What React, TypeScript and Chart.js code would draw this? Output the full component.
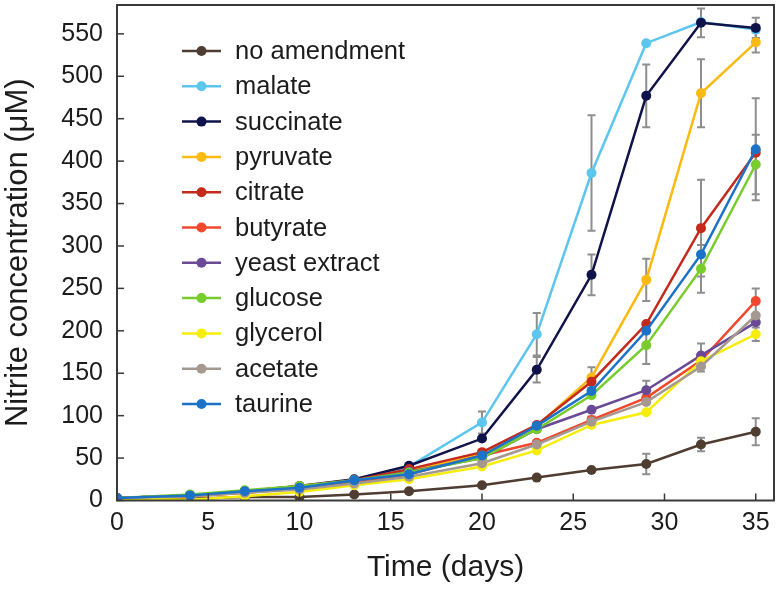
import React, { useEffect, useRef } from 'react';
import { Chart, registerables } from 'chart.js';

Chart.register(...registerables);

// ---- Data ----
const days = [0, 4, 7, 10, 13, 16, 20, 23, 26, 29, 32, 35];

const seriesNames = [
  'no amendment',
  'malate',
  'succinate',
  'pyruvate',
  'citrate',
  'butyrate',
  'yeast extract',
  'glucose',
  'glycerol',
  'acetate',
  'taurine',
];

const noAmendment = [2, 2, 4, 4, 7, 11, 18, 27, 36, 43, 66, 81];
const malate = [3, 6, 11, 16, 24, 40, 92, 196, 386, 539, 564, 555];
const succinate = [3, 6, 11, 17, 25, 41, 73, 154, 266, 477, 563, 557];
const pyruvate = [3, 5, 9, 14, 22, 35, 55, 88, 145, 260, 480, 540];
const citrate = [3, 6, 11, 17, 24, 37, 57, 89, 140, 208, 321, 410];
const butyrate = [3, 5, 9, 14, 21, 31, 53, 68, 95, 121, 165, 235];
const yeastExtract = [3, 6, 10, 16, 23, 34, 50, 84, 107, 130, 171, 210];
const glucose = [3, 7, 12, 17, 24, 33, 50, 84, 124, 183, 273, 396];
const glycerol = [2, 1, 5, 10, 18, 25, 40, 59, 89, 104, 164, 196];
const acetate = [3, 5, 9, 13, 20, 28, 44, 66, 93, 116, 158, 218];
const taurine = [3, 6, 11, 15, 24, 31, 53, 88, 129, 200, 290, 414];

// error (± half-length) for each point; 0 = no visible bar
const errNoAmendment = [0, 0, 0, 0, 0, 0, 0, 0, 0, 12, 8, 16];
const errMalate = [0, 0, 0, 0, 0, 0, 13, 25, 68, 0, 0, 0];
const errSuccinate = [0, 0, 0, 0, 0, 0, 0, 15, 24, 37, 17, 12];
const errPyruvate = [0, 0, 0, 0, 0, 0, 0, 0, 12, 25, 40, 12];
const errCitrate = [0, 0, 0, 0, 0, 0, 0, 0, 0, 0, 57, 0];
const errButyrate = [0, 0, 0, 0, 0, 0, 0, 0, 0, 0, 0, 15];
const errYeastExtract = [0, 0, 0, 0, 0, 0, 0, 0, 0, 11, 14, 0];
const errGlucose = [0, 0, 0, 0, 0, 0, 0, 0, 0, 22, 28, 35];
const errGlycerol = [0, 0, 0, 0, 0, 0, 0, 0, 0, 0, 0, 8];
const errAcetate = [0, 0, 0, 0, 0, 0, 0, 0, 6, 0, 6, 0];
const errTaurine = [0, 0, 0, 0, 0, 0, 0, 0, 0, 0, 0, 60];

const seriesValues = [
  noAmendment, malate, succinate, pyruvate, citrate, butyrate,
  yeastExtract, glucose, glycerol, acetate, taurine,
];
const seriesErrors = [
  errNoAmendment, errMalate, errSuccinate, errPyruvate, errCitrate, errButyrate,
  errYeastExtract, errGlucose, errGlycerol, errAcetate, errTaurine,
];
const seriesColors = [
  '#4f3d31', '#5cc6ee', '#10134a', '#fbba12', '#c42a1c', '#f0482c',
  '#6a4a96', '#78cc2c', '#f6ee0a', '#a49890', '#1b72c6',
];

const yTickMax = 584;
const xTickMax = 36;

const FONT = '"Liberation Sans", Arial, Helvetica, sans-serif';
const TEXT = '#1c1c1c';
const FRAME = '#3a3a3a';

const decorPlugin = {
  id: 'decor',
  beforeDatasetsDraw(chart: any) {
    const { ctx } = chart;
    const xs = chart.scales.x;
    const ys = chart.scales.y;
    ctx.save();
    ctx.strokeStyle = '#8e8e8e';
    ctx.lineWidth = 2;
    chart.data.datasets.forEach((ds: any, i: number) => {
      const errs = seriesErrors[i];
      ds.data.forEach((p: any, j: number) => {
        const e = errs[j];
        if (!e) return;
        const x = xs.getPixelForValue(p.x);
        const y1 = ys.getPixelForValue(p.y + e);
        const y2 = ys.getPixelForValue(p.y - e);
        ctx.beginPath();
        ctx.moveTo(x, y1);
        ctx.lineTo(x, y2);
        ctx.moveTo(x - 4, y1);
        ctx.lineTo(x + 4, y1);
        ctx.moveTo(x - 4, y2);
        ctx.lineTo(x + 4, y2);
        ctx.stroke();
      });
    });
    ctx.restore();
  },
  afterDraw(chart: any) {
    const { ctx, chartArea } = chart;
    const { left, right, top, bottom } = chartArea;
    const xs = chart.scales.x;
    const ys = chart.scales.y;
    ctx.save();
    // frame
    ctx.strokeStyle = FRAME;
    ctx.lineWidth = 2;
    ctx.strokeRect(left, top, right - left, bottom - top);
    // inward ticks
    ctx.lineWidth = 1.5;
    ys.ticks.forEach((t: any) => {
      const y = ys.getPixelForValue(t.value);
      ctx.beginPath();
      ctx.moveTo(left, y);
      ctx.lineTo(left + 7, y);
      ctx.stroke();
    });
    xs.ticks.forEach((t: any) => {
      const x = xs.getPixelForValue(t.value);
      ctx.beginPath();
      ctx.moveTo(x, bottom);
      ctx.lineTo(x, bottom - 7);
      ctx.stroke();
    });
    // legend
    const lx = left + 65;
    const ly = top + 46;
    const step = 35.3;
    ctx.font = `25.5px ${FONT}`;
    ctx.textBaseline = 'middle';
    ctx.textAlign = 'left';
    seriesNames.forEach((name, i) => {
      const y = ly + i * step;
      const c = seriesColors[i];
      ctx.strokeStyle = c;
      ctx.lineWidth = 2.5;
      ctx.beginPath();
      ctx.moveTo(lx, y);
      ctx.lineTo(lx + 39, y);
      ctx.stroke();
      ctx.fillStyle = c;
      ctx.beginPath();
      ctx.arc(lx + 19.5, y, 5, 0, Math.PI * 2);
      ctx.fill();
      ctx.fillStyle = TEXT;
      ctx.fillText(name, lx + 53, y + 1);
    });
    ctx.restore();
  },
};

export default function App() {
  const canvasRef = useRef<HTMLCanvasElement | null>(null);

  useEffect(() => {
    const canvas = canvasRef.current;
    if (!canvas) return;
    const datasets = seriesNames.map((name, i) => ({
      label: name,
      data: days.map((d, j) => ({ x: d, y: seriesValues[i][j] })),
      borderColor: seriesColors[i],
      backgroundColor: seriesColors[i],
      pointBackgroundColor: seriesColors[i],
      pointBorderColor: seriesColors[i],
      pointBorderWidth: 0,
      pointRadius: 5,
      borderWidth: 2.5,
      tension: 0,
      fill: false,
      order: seriesNames.length - 1 - i,
    }));

    const chart = new Chart(canvas, {
      type: 'line',
      data: { datasets },
      options: {
        animation: false,
        responsive: true,
        maintainAspectRatio: false,
        devicePixelRatio: 1,
        layout: { padding: { top: 2, right: 1, left: 0, bottom: 0 } },
        plugins: {
          legend: { display: false },
          tooltip: { enabled: false },
          title: { display: false },
        },
        scales: {
          x: {
            type: 'linear',
            min: 0,
            max: xTickMax,
            grid: { display: false, drawTicks: false },
            border: { display: false },
            ticks: {
              stepSize: 5,
              includeBounds: false,
              padding: 8,
              maxRotation: 0,
              color: TEXT,
              font: { family: FONT, size: 25 },
            },
            title: {
              display: true,
              text: 'Time (days)',
              color: TEXT,
              font: { family: FONT, size: 30 },
              padding: { top: 0, bottom: 7 },
            },
            afterFit: (s: any) => {
              s.height = 92.5;
              s.paddingLeft = 0;
              s.paddingRight = 0;
              s.paddingTop = 0;
              s.paddingBottom = 0;
            },
          },
          y: {
            type: 'linear',
            min: 0,
            max: yTickMax,
            grid: { display: false, drawTicks: false },
            border: { display: false },
            ticks: {
              stepSize: 50,
              includeBounds: false,
              padding: 14,
              color: TEXT,
              font: { family: FONT, size: 25 },
            },
            title: {
              display: true,
              text: 'Nitrite concentration (μM)',
              color: TEXT,
              font: { family: FONT, size: 31 },
              padding: { top: 0, bottom: 0 },
            },
            afterFit: (s: any) => {
              s.width = 117;
              s.paddingLeft = 0;
              s.paddingRight = 0;
              s.paddingTop = 0;
              s.paddingBottom = 0;
            },
          },
        },
      },
      plugins: [decorPlugin],
    } as any);

    return () => chart.destroy();
  }, []);

  return (
    <div style={{ position: 'absolute', left: 0, top: 0, width: 779, height: 593, background: '#fff' }}>
      <canvas ref={canvasRef} />
    </div>
  );
}
